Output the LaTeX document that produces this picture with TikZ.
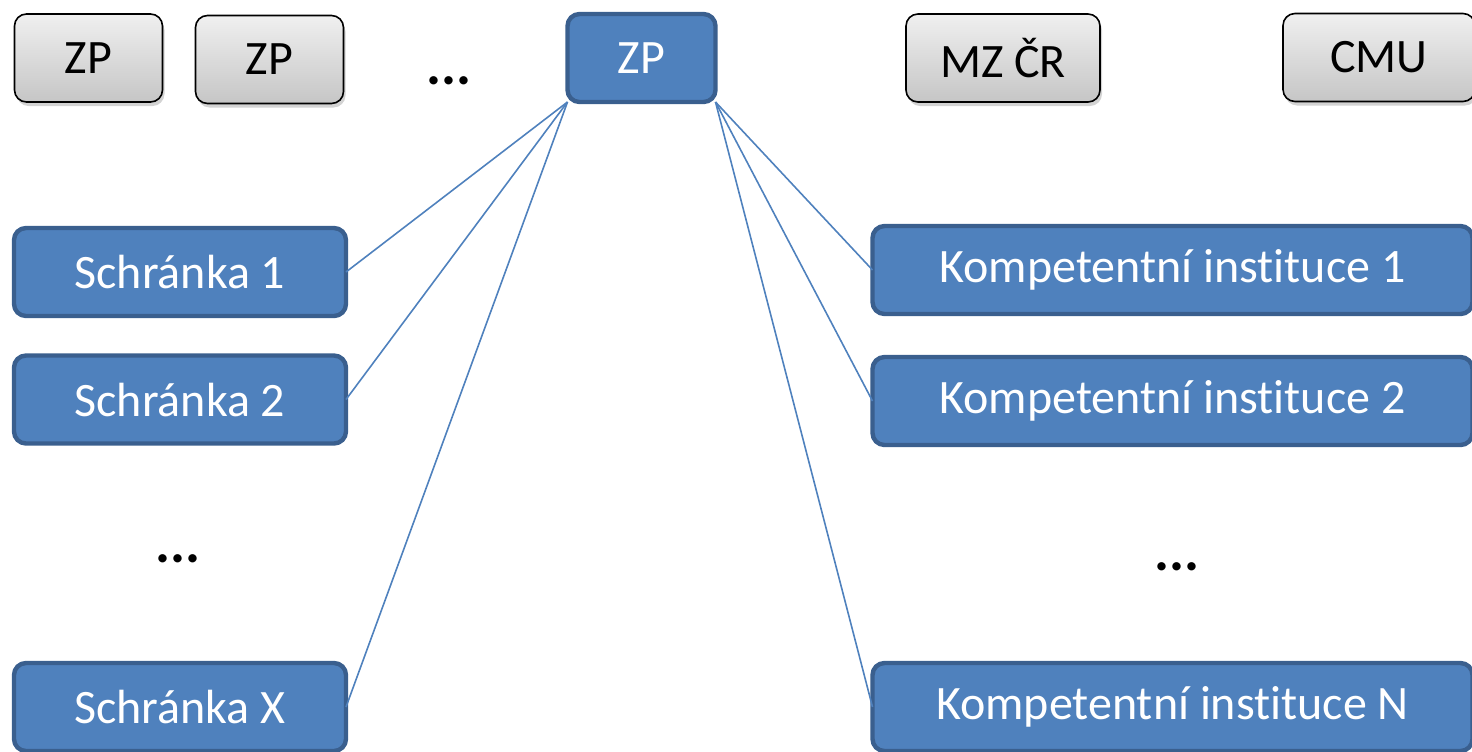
\documentclass[tikz,border=0pt]{standalone}
\usepackage{fontspec}
\setmainfont{Carlito}[Ligatures=NoCommon]
\usepackage{xcolor}
\usepackage{tikz}
\usetikzlibrary{
    positioning,
    shadows
}
\definecolor{boxblue}{HTML}{4F81BD}
\definecolor{boxedge}{HTML}{3A5F8E}

\begin{document}
\begin{tikzpicture}[x=0.5pt, y=-0.5pt,
        graybox/.style={draw=black, line width=0.8pt, rounded corners=6pt,
            top color=gray!12, bottom color=gray!45, drop shadow={shadow xshift=1pt, shadow yshift=-2pt, opacity=0.35},
            minimum height=44pt, font=\fontsize{24}{27}\selectfont, inner sep=0pt, outer sep=0pt},
        bluebox/.style={draw=boxedge, fill=boxblue, line width=2.2pt, rounded corners=6pt, text=white,
            minimum height=44pt, font=\fontsize{24}{27}\selectfont, inner sep=0pt, outer sep=0pt},
        dots/.style={font=\fontsize{28}{30}\selectfont\bfseries, anchor=base},
        link/.style={draw=boxblue, line width=0.8pt}]
        \useasboundingbox (0,0) rectangle (1472,751);
        % horni rada
        \node[graybox, minimum width=74pt] (zpa) at (88.5,58) {ZP};
        \node[graybox, minimum width=74pt] (zpb) at (269.5,59.5) {ZP};
        \node[dots] (dtop) at (449,84) {...};
        \node[bluebox, minimum width=74pt] (zp) at (641.5,58) {ZP};
        \node[graybox, minimum width=97pt] (mzcr) at (1003,58) {MZ ČR};
        \node[graybox, minimum width=96pt] (cmu) at (1379,57.5) {CMU};
        
        % schranky
        \node[bluebox, minimum width=166pt] (s1) at (180,272) {Schránka 1};
        \node[bluebox, minimum width=166pt] (s2) at (180,399.5) {Schránka 2};
        \node[dots] (dleft) at (178,562) {...};
        \node[bluebox, minimum width=166pt] (sx) at (180,707) {Schránka X};
        
        % kompetentni instituce
        \node[bluebox, minimum width=300pt] (k1) at (1172.5,270) {Kompetentní instituce 1};
        \node[bluebox, minimum width=300pt] (k2) at (1172.5,401) {Kompetentní instituce 2};
        \node[dots] (dright) at (1177,570) {...};
        \node[bluebox, minimum width=300pt] (kn) at (1172.5,707) {Kompetentní instituce N};
        
        \draw[link] (zp.south west) -- (s1.east);
        \draw[link] (zp.south west) -- (s2.east);
        \draw[link] (zp.south west) -- (sx.east);
        \draw[link] (zp.south east) -- (k1.west);
        \draw[link] (zp.south east) -- (k2.west);
        \draw[link] (zp.south east) -- (kn.west);
    \end{tikzpicture}
\end{document}
